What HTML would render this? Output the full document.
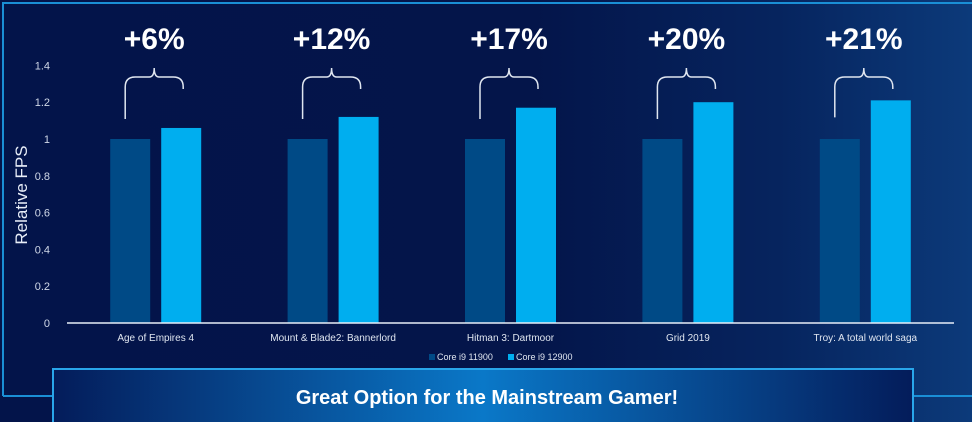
<!DOCTYPE html>
<html><head><meta charset="utf-8"><style>
body{margin:0;width:972px;height:422px;overflow:hidden;font-family:"Liberation Sans",sans-serif;}
#bg{position:absolute;left:0;top:0;width:972px;height:422px;background:linear-gradient(90deg,#03144a 0%,#04154a 55%,#06245e 80%,#0c3a7a 100%);}
svg{position:absolute;left:0;top:0}
</style></head><body>
<div id="bg"></div>
<svg id="chart" width="972" height="422"></svg>
<script>
const categories=["Age of Empires 4","Mount & Blade2: Bannerlord","Hitman 3: Dartmoor","Grid 2019","Troy: A total world saga"];
const series11900=[1,1,1,1,1];
const series12900=[1.06,1.12,1.17,1.20,1.21];
const gainLabels=["+6%","+12%","+17%","+20%","+21%"];
const yTicks=[0,0.2,0.4,0.6,0.8,1,1.2,1.4];
const seriesNames=["Core i9 11900","Core i9 12900"];
const NS="http://www.w3.org/2000/svg";
const svg=document.getElementById('chart');
const x0=67,x1=954,yBase=323,yPx=184;
const bw=(x1-x0)/categories.length;
function y(v){return yBase-v*yPx;}
function xc(i){return x0+bw*(i+0.5);}
function mk(t,a,txt){const e=document.createElementNS(NS,t);for(const k in a)e.setAttribute(k,a[k]);if(txt!==undefined)e.textContent=txt;svg.appendChild(e);return e;}
let e=mk('path',{d:'M3,396 L3,3 L972,3 M3,396 L53,396 M913,396 L972,396',stroke:'#1a8fd6',fill:'none','stroke-width':2});

yTicks.forEach(t=>{const l=mk('text',{x:50,y:y(t)+4,'text-anchor':'end','font-size':11,fill:'#d0d8e8'},String(t));
});
e=mk('text',{x:27,y:195,transform:'rotate(-90 27 195)','text-anchor':'middle','font-size':17,fill:'#e8eef8'},'Relative FPS');

categories.forEach((c,i)=>{
 const cx=xc(i);
 const xa=cx-45.5,xb=cx+5.5;
 let r=mk('rect',{x:xa,y:y(series11900[i]),width:40,height:series11900[i]*yPx,fill:'#004a86'});
 
 r=mk('rect',{x:xb,y:y(series12900[i]),width:40,height:series12900[i]*yPx,fill:'#00aeef'});
 
 const bl=xa+15,br=xb+22,top=77,mid=(bl+br)/2;
 const ly=Math.min(y(series12900[i])+17,y(series11900[i])-20),ry=Math.min(89,y(series12900[i])-10);
 let p=mk('path',{d:`M${bl},${ly} L${bl},${top+10} Q${bl},${top} ${bl+10},${top} L${mid-5},${top} Q${mid},${top} ${mid},${top-9} Q${mid},${top} ${mid+5},${top} L${br-10},${top} Q${br},${top} ${br},${top+10} L${br},${ry}`,stroke:'#e0e6f0',fill:'none','stroke-width':1.5});
 
 let t=mk('text',{x:mid,y:49,'text-anchor':'middle','font-size':30,'font-weight':'bold',fill:'#fff'},gainLabels[i]);
 
 t=mk('text',{x:cx,y:341,'text-anchor':'middle','font-size':10,fill:'#e0e6f0'},c);
 
});
e=mk('line',{x1:x0,y1:yBase,x2:x1,y2:yBase,stroke:'#e8eef8','stroke-width':1.5});

[[429,'#004a86'],[508,'#00aeef']].forEach((s,k)=>{
 let r=mk('rect',{x:s[0],y:354,width:6,height:6,fill:s[1]});
 
 let t=mk('text',{x:s[0]+8,y:360,'font-size':9,fill:'#e0e6f0'},seriesNames[k]);
 
});
const defs=mk('defs',{});
defs.innerHTML='<linearGradient id="bg2" x1="0" x2="1" y1="0" y2="0"><stop offset="0" stop-color="#041c5a"/><stop offset="0.5" stop-color="#0a78c8"/><stop offset="1" stop-color="#041c5a"/></linearGradient>';
e=mk('rect',{x:53,y:369,width:860,height:60,fill:'url(#bg2)',stroke:'#29a6ea','stroke-width':2});

e=mk('text',{x:487,y:404,'text-anchor':'middle','font-size':20,'font-weight':'bold',fill:'#fff'},'Great Option for the Mainstream Gamer!');

</script>
</body></html>
